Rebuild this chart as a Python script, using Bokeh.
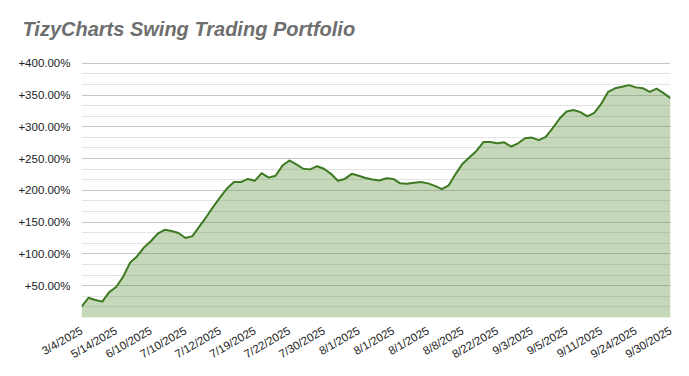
from bokeh.plotting import figure
from bokeh.models import FixedTicker, Range1d
from bokeh.embed import file_html
from bokeh.resources import INLINE
import math

# Portfolio return (%) by trade
returns = [17, 31, 27.5, 25, 40, 48, 64, 86, 96, 110,
           120, 132, 138, 136, 133, 125, 128, 143, 158, 174,
           189, 203, 213, 213, 218, 215, 227, 220, 223, 239,
           247, 241, 234, 233, 238, 234, 226, 215, 218, 226,
           223, 219.5, 217, 215.5, 219, 218, 211, 210.5, 212, 213,
           211, 207, 202, 208, 226, 242, 252, 262, 276, 276,
           274, 275.5, 269, 274, 282, 283, 279, 284, 298, 313,
           324, 326.5, 323, 316.5, 322, 336, 355, 360.5, 363, 365.5,
           362, 360.8, 355, 360, 353, 345]

tick_labels = ["3/4/2025", "5/14/2025", "6/10/2025", "7/10/2025", "7/12/2025",
               "7/19/2025", "7/22/2025", "7/30/2025", "8/1/2025", "8/1/2025",
               "8/1/2025", "8/8/2025", "8/22/2025", "9/3/2025", "9/5/2025",
               "9/11/2025", "9/24/2025", "9/30/2025"]
label_every = 5

y_ticks = [50, 100, 150, 200, 250, 300, 350, 400]

idx = list(range(len(returns)))
x_ticks = [i * label_every for i in range(len(tick_labels))]

p = figure(width=673, height=368, output_backend="svg", toolbar_location=None,
           x_range=Range1d(0, len(returns) - 1), y_range=Range1d(0, 420),
           min_border_left=81, min_border_right=3, min_border_top=50, min_border_bottom=42)
p.outline_line_color = None
p.background_fill_color = "white"

p.title.text = "TizyCharts Swing Trading Portfolio"
p.title.text_font = "Liberation Sans"
p.title.text_font_style = "bold italic"
p.title.text_font_size = "20px"
p.title.text_color = "#6e6e6e"
p.title.offset = -59
p.title.standoff = 17
p.title.vertical_align = "top"

p.varea(x=idx, y1=[0] * len(idx), y2=returns, fill_color="#4e8a2e", fill_alpha=0.33)
p.line(x=idx, y=returns, line_color="#3d7a22", line_width=2, line_join="round")

# y axis
minor = []
for t in [0] + y_ticks:
    minor += [t + 50 / 3, t + 100 / 3]
p.yaxis.ticker = FixedTicker(ticks=y_ticks, minor_ticks=[m for m in minor if m < 410])
p.yaxis.major_label_overrides = {t: f"+{t:.2f}%" for t in y_ticks}
p.yaxis.axis_line_color = None
p.yaxis.major_tick_line_color = None
p.yaxis.minor_tick_line_color = None
p.yaxis.major_label_standoff = 5
p.yaxis.major_label_text_font = "Liberation Sans"
p.yaxis.major_label_text_font_size = "11.5px"
p.yaxis.major_label_text_color = "#222222"

p.ygrid.grid_line_color = "#c6c6c6"
p.ygrid.minor_grid_line_color = "#e3e3e3"
p.xgrid.grid_line_color = None

# x axis
p.xaxis.ticker = FixedTicker(ticks=x_ticks)
p.xaxis.major_label_overrides = {t: l for t, l in zip(x_ticks, tick_labels)}
p.xaxis.major_label_orientation = math.pi / 6
p.xaxis.axis_line_color = None
p.xaxis.major_tick_line_color = None
p.xaxis.minor_tick_line_color = None
p.xaxis.major_label_standoff = 6
p.xaxis.major_label_text_font = "Liberation Sans"
p.xaxis.major_label_text_font_size = "11.5px"
p.xaxis.major_label_text_color = "#222222"

open("out.html", "w").write(file_html(p, INLINE))
